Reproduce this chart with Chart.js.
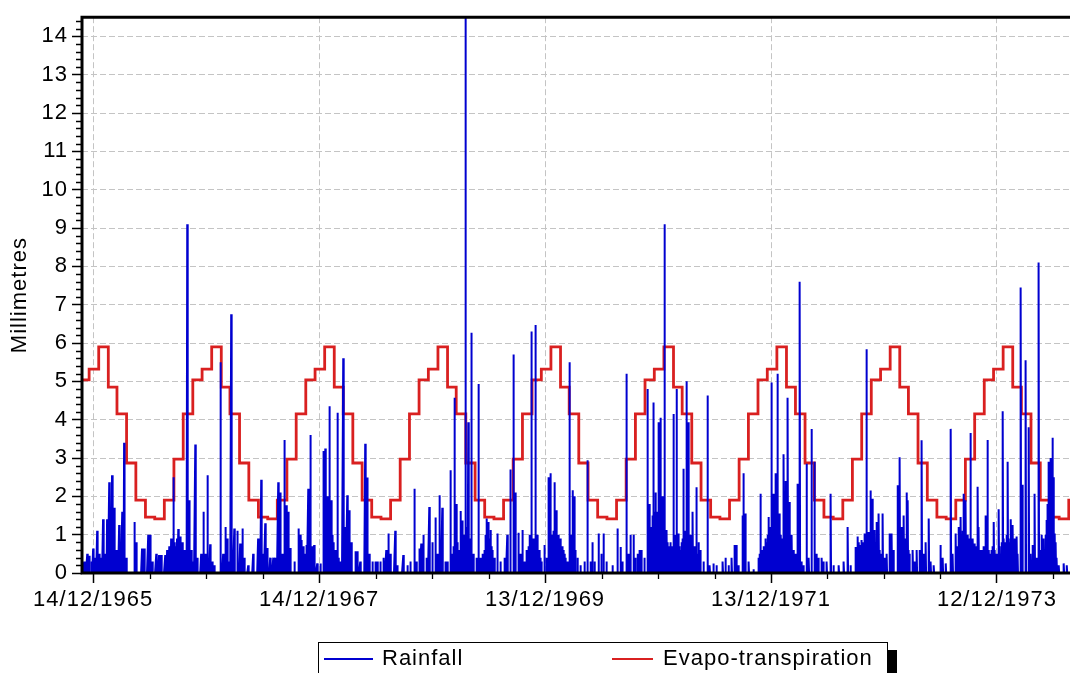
<!DOCTYPE html>
<html><head><meta charset="utf-8">
<script src="https://cdn.jsdelivr.net/npm/chart.js@4.4.1/dist/chart.umd.min.js"></script>
<style>
html,body{margin:0;padding:0;background:#fff;}
#wrap{position:relative;width:1070px;height:673px;overflow:hidden;background:#fff;}
canvas{position:absolute;left:0;top:0;}
#legend{position:absolute;left:318px;top:642px;width:568px;height:32px;border:1.5px solid #000;background:#fff;box-shadow:9px 8px 0 #000;font:22px "Liberation Sans",Arial,sans-serif;letter-spacing:1px;color:#000;}
#legend .ln{position:absolute;top:15px;height:2px;}
#legend .tx{position:absolute;top:2px;line-height:26px;white-space:nowrap;}
</style></head>
<body><div id="wrap"><canvas id="c" width="1070" height="673"></canvas><div id="legend"></div></div>
<script>
// ---- data ----
const BASE_DATE = Date.UTC(1965, 11, 14); // day 0 = 14/12/1965
const seriesNames = ['Rainfall', 'Evapo-transpiration'];
const seriesColors = ['#0000d0', '#d92020'];

// daily rainfall events: day offset from 14/12/1965 and millimetres (other days dry)
const rainDay = [
-29,-19,-13,0,13,19,32,42,45,52,61,68,74,84,94,100,107,133,139,158,165,178,184,191,204,213,220,233,239,246,
252,259,262,268,275,281,288,294,297,304,310,317,323,330,336,349,356,362,369,378,385,391,411,420,427,433,440,446,456,466,
475,482,488,501,517,533,543,550,556,563,572,582,588,598,605,611,618,624,630,637,650,663,669,672,679,689,695,702,708,714,
724,734,744,750,753,757,763,769,773,782,789,792,799,808,815,821,828,834,847,854,863,879,886,892,902,912,918,928,938,947,
954,960,976,983,1002,1015,1025,1038,1044,1054,1060,1067,1077,1086,1096,1106,1112,1119,1128,1138,1144,1154,1161,1167,1174,1180,1187,1193,1203,1212,
1222,1229,1238,1245,1251,1258,1264,1271,1277,1284,1290,1296,1306,1316,1329,1338,1348,1358,1364,1374,1380,1387,1393,1400,1406,1410,1416,1423,1429,1435,
1442,1448,1458,1465,1471,1477,1484,1490,1497,1503,1510,1516,1523,1532,1539,1545,1549,1555,1565,1574,1587,1597,1607,1613,1620,1633,1642,1649,1659,1678,
1694,1704,1710,1723,1730,1736,1746,1752,1759,1765,1772,1781,1791,1798,1804,1810,1817,1820,1827,1833,1840,1846,1853,1859,1865,1875,1885,1891,1898,1907,
1917,1924,1930,1937,1943,1949,1956,1962,1972,1985,1992,2004,2014,2034,2043,2053,2063,2072,2079,2085,2098,2101,2108,2118,2134,2150,2156,2163,2169,2176,
2182,2186,2192,2198,2205,2211,2218,2224,2231,2237,2244,2250,2257,2263,2270,2276,2283,2289,2295,2305,2312,2321,2331,2337,2344,2354,2360,2370,2383,2392,
2409,2425,2438,2447,2464,2470,2477,2483,2490,2493,2499,2506,2512,2518,2525,2531,2538,2544,2551,2557,2564,2573,2580,2586,2599,2606,2612,2619,2628,2632,
2638,2648,2654,2661,2670,2677,2683,2690,2700,2706,2716,2738,2745,2755,2771,2777,2787,2796,2803,2813,2819,2826,2835,2842,2848,2858,2861,2871,2877,2884,
2890,2897,2903,2910,2916,2926,2932,2939,2945,2955,2961,2965,2971,2978,2984,2997,3003,3013,3023,3029,3036,3042,3049,3055,3062,3068,3075,3081,3088,3094,
3100,3107,3113,3120,3136,3146,
// light-rain days inside the wet-season clusters
-25,-5,5,25,38,56,64,71,78,88,97,236,242,249,255,265,271,278,284,291,300,307,
666,676,685,699,705,747,760,766,776,779,786,
1157,1164,1170,1177,1184,1190,1197,1206,1209,1216,1219,1225,1268,1274,1281,1287,
1403,1413,1420,1426,1432,1439,1445,1474,1481,1487,1494,1500,1506,1513,1519,1526,1542,1552,1558,
1794,1801,1807,1813,1823,1830,1836,1843,1849,1856,1862,1869,1878,1882,1888,1894,1901,1904,1910,1914,1920,1927,1933,1940,1946,1952,
2153,2160,2166,2172,2179,2189,2195,2201,2208,2214,2221,2227,2234,2240,2247,2253,2260,2266,2273,2279,
2467,2474,2480,2487,2496,2502,2509,2515,2522,2528,2535,2541,2602,2609,2616,2622,2625,2635,
2790,2793,2799,2806,2810,2816,2822,2829,2832,2839,2845,2851,2855,2865,2881,2887,2894,2900,2906,2913,2920,2929,2935,2942,2948,2952,2958,2968,2974,2981,2987,
3065,3071,3078,3084,3091,3097,3103,3110
];
const rainMm = [
0.3,0.5,0.45,0.64,1.1,0.5,1.4,0.3,1.4,2.37,2.55,1.7,0.6,1.25,1.6,3.4,0.4,1.33,0.8,0.64,0.64,1.0,1.0,0.3,0.5,0.47,0.47,0.47,0.6,0.7,
0.9,2.5,0.8,0.6,1.15,0.95,0.8,0.5,0.6,9.1,1.9,0.6,0.3,3.35,0.4,0.5,1.6,0.5,2.55,0.75,0.3,0.2,5.5,0.5,1.2,0.9,0.3,6.75,1.16,1.1,
0.77,1.16,0.4,0.2,0.5,0.9,2.43,0.5,1.3,0.65,0.4,0.4,0.4,2.37,2.1,0.5,3.47,1.77,1.6,0.65,0.3,1.16,1.0,0.86,0.7,0.73,2.2,3.6,0.7,0.73,
0.25,0.25,3.18,3.25,1.85,2.0,4.35,1.9,1.0,0.6,4.18,0.4,0.3,5.6,1.2,2.03,1.64,0.8,0.57,0.57,0.3,3.37,2.49,0.5,0.3,0.3,0.3,0.3,0.4,0.6,
1.03,0.5,1.1,0.2,0.47,0.2,0.3,2.2,0.3,0.64,0.77,1.0,0.4,1.72,0.8,1.45,0.5,2.03,1.7,0.3,0.3,2.68,0.4,4.57,1.8,0.6,1.62,1.37,14.5,3.93,
6.27,0.5,0.4,4.93,0.4,0.5,0.6,1.42,1.33,1.12,0.6,0.4,1.03,0.3,0.4,1.0,2.7,5.7,2.1,1.05,0.5,1.12,0.3,0.6,0.7,1.0,6.3,0.9,6.47,1.0,
0.6,0.3,0.73,0.4,2.5,2.6,1.0,2.37,1.64,1.0,0.9,0.7,0.5,0.3,5.5,1.0,2.16,2.0,0.4,0.2,0.3,2.94,0.3,0.8,0.3,1.03,0.5,1.03,0.3,0.2,
1.16,0.68,0.3,5.2,0.5,1.0,1.0,0.4,0.5,0.6,0.6,0.4,4.8,1.8,1.2,4.45,2.1,1.6,3.93,4.05,2.0,9.1,1.12,0.7,0.8,4.15,4.8,1.03,0.6,2.72,
5.0,3.93,1.0,1.6,0.7,2.24,0.8,0.6,0.3,4.63,0.2,0.25,0.2,0.3,0.4,0.2,0.4,0.73,0.73,0.2,1.5,2.6,1.55,0.3,0.1,0.4,2.07,0.6,0.7,0.8,
1.46,1.0,4.97,2.07,2.6,5.2,1.55,0.8,3.1,2.4,4.57,1.85,1.0,0.6,0.4,2.33,7.6,0.3,0.2,2.85,0.4,3.76,2.9,0.5,0.4,0.4,0.3,0.3,2.07,0.2,
0.2,0.3,1.2,0.2,0.68,0.95,0.73,0.86,0.7,1.03,5.84,1.07,2.15,1.94,1.12,1.33,1.55,0.5,1.55,0.4,0.5,1.03,1.03,0.6,2.29,3.02,1.2,1.5,2.1,1.9,
0.5,0.6,0.3,0.6,0.6,3.46,0.5,0.8,1.42,0.3,0.2,0.73,0.4,0.25,3.76,0.5,1.03,1.2,1.46,2.07,1.9,1.0,3.65,0.9,0.77,2.25,1.2,0.6,0.7,1.5,
3.47,0.5,0.6,1.33,0.5,1.66,0.5,4.22,0.7,2.9,0.8,1.4,1.25,0.9,0.95,7.45,2.3,5.55,3.8,0.5,0.73,2.07,0.4,8.1,0.6,0.5,0.6,1.38,2.9,3.0,
3.53,1.03,0.4,0.2,0.25,0.2,
0.3,0.3,0.4,0.4,0.5,0.4,0.7,0.5,0.4,0.3,0.5,0.4,0.5,0.6,0.8,0.7,0.9,0.6,0.7,0.6,0.5,0.8,
0.9,0.6,0.5,0.9,0.6,1.5,1.6,1.2,0.8,0.6,0.5,
0.5,0.7,1.0,0.8,0.6,0.9,1.0,0.8,1.2,0.9,0.8,0.5,1.0,1.1,0.9,0.7,
0.5,0.8,0.9,0.8,0.7,0.6,0.4,1.2,1.0,1.1,1.0,0.9,0.8,0.7,0.6,0.4,0.8,0.9,0.6,
1.0,1.1,1.5,1.6,1.5,1.9,1.8,1.4,1.0,0.8,0.6,0.7,0.9,1.0,0.9,0.7,0.8,0.9,1.1,1.0,1.2,1.0,0.8,0.6,0.7,0.5,
0.5,0.6,0.7,0.9,1.0,1.2,1.4,1.5,1.4,1.3,1.0,0.9,1.1,1.0,0.9,0.8,0.6,0.5,0.5,0.6,
0.6,0.8,0.7,0.8,0.9,0.9,1.0,1.0,0.9,0.8,0.7,0.6,0.9,1.0,0.9,0.8,0.9,0.6,
0.6,0.7,0.9,1.0,1.1,1.2,1.0,0.8,0.9,0.7,0.6,0.5,0.7,0.6,0.6,0.9,0.6,0.5,0.7,0.6,0.5,0.7,0.8,0.9,0.8,1.0,0.9,0.8,0.7,0.6,0.5,
1.0,0.9,1.0,1.8,2.9,3.0,2.5,0.8
];

// monthly evapo-transpiration (mm/day), one value per month starting November 1965
const etFirstMonth = [1965, 10]; // year, zero-based month (10 = November)
const etValues = [
                                                                  5.04,5.32,
5.9,4.85,4.15,2.87,1.9,1.46,1.41,1.9,2.97,4.15,5.04,5.32,
5.9,4.85,4.15,2.87,1.9,1.46,1.41,1.9,2.97,4.15,5.04,5.32,
5.9,4.85,4.15,2.87,1.9,1.46,1.41,1.9,2.97,4.15,5.04,5.32,
5.9,4.85,4.15,2.87,1.9,1.46,1.41,1.9,2.97,4.15,5.04,5.32,
5.9,4.85,4.15,2.87,1.9,1.46,1.41,1.9,2.97,4.15,5.04,5.32,
5.9,4.85,4.15,2.87,1.9,1.46,1.41,1.9,2.97,4.15,5.04,5.32,
5.9,4.85,4.15,2.87,1.9,1.46,1.41,1.9,2.97,4.15,5.04,5.32,
5.9,4.85,4.15,2.87,1.9,1.46,1.41,1.9,2.97,4.15,5.04,5.32,
5.9,4.85,4.15,2.87,1.9,1.46,1.41,1.9,2.97,4.15
];

// axis
const xMin = -36, xMax = 3156;
const xMajorTicks = [0, 730, 1460, 2190, 2920];
const xMinorTicks = [182.5, 365, 547.5, 912.5, 1095, 1277.5, 1642.5, 1825, 2007.5, 2372.5, 2555, 2737.5, 3102.5];
const yMajorTicks = [0,1,2,3,4,5,6,7,8,9,10,11,12,13,14];
const yMinorTicks = [];
for (let i = 1; i <= 72; i++) if (i % 5 !== 0) yMinorTicks.push(i / 5);
const yMax = 14.5;
const yTitle = 'Millimetres';

// ---- build series ----
const DAY = 86400000;
const rainMap = new Map();
rainDay.forEach((d, i) => rainMap.set(d, rainMm[i]));
const rainPoints = [];
for (let d = xMin; d <= xMax; d++) rainPoints.push({x: d, y: rainMap.has(d) ? rainMap.get(d) : 0});
const etPoints = etValues.map((v, i) => {
  const m = etFirstMonth[1] + i;
  const t = Date.UTC(etFirstMonth[0] + Math.floor(m / 12), m % 12, 1);
  return {x: Math.round((t - BASE_DATE) / DAY), y: v};
});
function fmtDate(d) {
  const dt = new Date(BASE_DATE + d * DAY);
  const p = n => String(n).padStart(2, '0');
  return p(dt.getUTCDate()) + '/' + p(dt.getUTCMonth() + 1) + '/' + dt.getUTCFullYear();
}

const FONT = "'Liberation Sans', Arial, sans-serif";
Chart.defaults.font.family = FONT;
Chart.defaults.font.size = 22;
Chart.defaults.color = '#000';

const framePlugin = {
  id: 'frame',
  beforeDraw(chart) { chart.ctx.letterSpacing = '1px'; },
  afterDatasetsDraw(chart) {
    const {ctx, chartArea: a, scales: {x, y}} = chart;
    ctx.save();
    ctx.strokeStyle = '#000';
    ctx.lineWidth = 3;
    ctx.beginPath();
    ctx.moveTo(a.left - 1.5, a.top); ctx.lineTo(a.right, a.top);
    ctx.moveTo(a.left, a.top); ctx.lineTo(a.left, a.bottom + 1.5);
    ctx.moveTo(a.left - 1.5, a.bottom); ctx.lineTo(a.right, a.bottom);
    ctx.stroke();
    ctx.lineWidth = 1.3;
    ctx.beginPath();
    yMinorTicks.forEach(v => { const py = Math.round(y.getPixelForValue(v)) + 0.5; ctx.moveTo(a.left - 6, py); ctx.lineTo(a.left, py); });
    xMinorTicks.forEach(v => { const px = Math.round(x.getPixelForValue(v)) + 0.5; ctx.moveTo(px, a.bottom); ctx.lineTo(px, a.bottom + 6); });
    ctx.stroke();
    ctx.restore();
  }
};

new Chart(document.getElementById('c'), {
  type: 'line',
  data: {
    datasets: [
      {label: seriesNames[0], data: rainPoints, borderColor: seriesColors[0], backgroundColor: '#0000ff',
       borderWidth: 2, fill: 'origin', pointRadius: 0, tension: 0, borderJoinStyle: 'bevel'},
      {label: seriesNames[1], data: etPoints, borderColor: seriesColors[1], borderWidth: 2.8,
       stepped: 'before', fill: false, pointRadius: 0, tension: 0}
    ]
  },
  options: {
    responsive: false,
    devicePixelRatio: 1,
    animation: false,
    events: [],
    layout: {padding: {top: 15, left: 0, right: 0, bottom: 0}},
    plugins: {legend: {display: false}, tooltip: {enabled: false}},
    scales: {
      x: {
        type: 'linear', min: xMin, max: xMax,
        afterBuildTicks: s => { s.ticks = xMajorTicks.map(v => ({value: v})); },
        afterFit: s => { s.height = 100; },
        ticks: {autoSkip: false, maxRotation: 0, padding: 4, callback: v => fmtDate(v), font: {size: 22}},
        grid: {color: '#c4c4c4', lineWidth: 1, tickColor: '#000', tickLength: 10, tickWidth: 1.5},
        border: {display: false, dash: [6, 3]}
      },
      y: {
        type: 'linear', min: 0, max: yMax,
        afterBuildTicks: s => { s.ticks = yMajorTicks.map(v => ({value: v})); },
        afterFit: s => { s.width = 82; },
        ticks: {padding: 4, font: {size: 22}},
        grid: {color: '#c4c4c4', lineWidth: 1, tickColor: '#000', tickLength: 10, tickWidth: 1.5},
        border: {display: false, dash: [6, 3]},
        title: {display: true, text: yTitle, font: {size: 22}, padding: {top: 7, bottom: 0}}
      }
    }
  },
  plugins: [framePlugin]
});

// legend (HTML)
const lg = document.getElementById('legend');
const legendPos = [{line: 5, lineW: 49, text: 63}, {line: 293, lineW: 41, text: 344}];
seriesNames.forEach((n, i) => {
  const l = document.createElement('div'); l.className = 'ln';
  l.style.left = legendPos[i].line + 'px'; l.style.width = legendPos[i].lineW + 'px'; l.style.background = seriesColors[i];
  const t = document.createElement('div'); t.className = 'tx'; t.style.left = legendPos[i].text + 'px'; t.textContent = n;
  lg.appendChild(l); lg.appendChild(t);
});
</script>
</body></html>
